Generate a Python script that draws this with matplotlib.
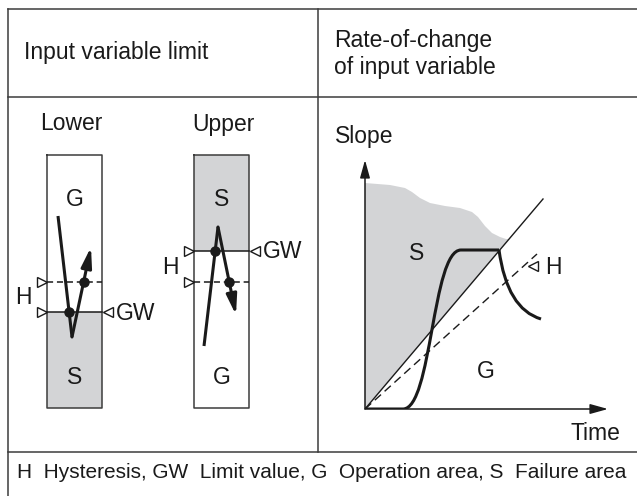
import numpy as np
import matplotlib
matplotlib.use("Agg")
import matplotlib.pyplot as plt
from matplotlib.path import Path
from matplotlib.patches import PathPatch

plt.rcParams['font.family'] = ['Liberation Sans', 'DejaVu Sans']

# --- texts ---
header_left = "Input variable limit"
header_right = "Rate-of-change\nof input variable"
footer = "H  Hysteresis, GW  Limit value, G  Operation area, S  Failure area"
box_titles = ["Lower", "Upper"]

# --- left panel: limit boxes (pixel coords of the figure) ---
box_left = [47, 194]
box_width = 55
box_top, box_bottom = 155, 408
title_x = [71, 223]
gw_level = [312, 251]          # limit value line
h_level = [282, 282]           # hysteresis (dashed) line
shade = [(312, 408), (155, 251)]
top_label = ["G", "S"]
bottom_label = ["S", "G"]

# signal paths (x, y) for the two boxes
lower_path_x = [58, 72, 91]
lower_path_y = [216, 337, 247]
upper_path_x = [204, 218, 236]
upper_path_y = [346, 227, 315]

# --- right panel: slope vs time, local units (time right, slope up) ---
t_axis_len = 243
s_axis_len = 249
limit_line = (178, 210)
hyst_line = (172, 155)
fail_top_t = [0, 25, 40, 47, 55, 65, 80, 95, 107, 113, 120, 127, 135, 141, 144]
fail_top_s = [226, 224, 221, 217, 211, 206, 203, 201, 197, 192, 183, 176, 172, 170, 170]
# rise: flat start, S-shaped bezier, plateau
rise_t = [0, 38, 67, 67, 96, 134]
rise_s = [0, 0, 0, 159, 159, 159]
# fall: quadratic bezier after the plateau
fall_t = [134, 142, 176]
fall_s = [159, 100, 90]

ink = '#1a1a1a'
frame = '#3c3c3c'
gray = '#d3d4d6'
fs = 16.5
fs_foot = 15

fig = plt.figure(figsize=(6.37, 4.96), dpi=100)
ax = fig.add_axes([0, 0, 1, 1])
ax.set_xlim(0, 637)
ax.set_ylim(496, 0)
ax.axis('off')

# table grid
ax.plot([8, 637], [9, 9], color=frame, lw=1.1)
ax.plot([8, 637], [97, 97], color=frame, lw=1.1)
ax.plot([8, 637], [452, 452], color=frame, lw=1.1)
ax.plot([8, 8], [9, 496], color=frame, lw=1.1)
ax.plot([318, 318], [9, 452], color=frame, lw=1.1)

ax.text(24, 52, header_left, fontsize=fs, color=ink, va='center', ha='left')
ax.text(334, 54, header_right, fontsize=fs, color=ink, va='center', ha='left',
        linespacing=1.2)
ax.text(17, 473, footer, fontsize=fs_foot, color=ink, va='center', ha='left')

# limit boxes
for i in range(2):
    x0 = box_left[i]
    x1 = x0 + box_width
    xc = x0 + box_width / 2
    y0, y1 = shade[i]
    ax.fill_between([x0, x1], y0, y1, color=gray, lw=0)
    ax.plot([x0, x1, x1, x0, x0], [box_top, box_top, box_bottom, box_bottom, box_top],
            color=frame, lw=1.1)
    ax.plot([x0, x1], [gw_level[i]] * 2, color=ink, lw=1.1)
    ax.plot([x0, x1], [h_level[i]] * 2, color=ink, lw=1.1, ls=(0, (4, 2.5)))
    ax.text(title_x[i], 124, box_titles[i], fontsize=fs, color=ink, ha='center', va='center')
    ax.text(xc, 200, top_label[i], fontsize=fs, color=ink, ha='center', va='center')
    ax.text(xc, 377, bottom_label[i], fontsize=fs, color=ink, ha='center', va='center')
    # hollow markers
    ax.plot([x0 - 5] * 2, [gw_level[i], h_level[i]], ls='none', marker='>', ms=7,
            mfc='white', mec=ink, mew=1)
    ax.plot([x1 + 5.5], [gw_level[i]], ls='none', marker='<', ms=7,
            mfc='white', mec=ink, mew=1)
    ax.text(x1 + 14, gw_level[i] + 1, "GW", fontsize=fs, color=ink, ha='left', va='center')
    ax.text(x0 - 24, (gw_level[i] + h_level[i]) / 2 + 1, "H", fontsize=fs, color=ink,
            ha='center', va='center')

# signal arrows with crossing dots
for px, py, i in [(lower_path_x, lower_path_y, 0), (upper_path_x, upper_path_y, 1)]:
    ax.plot(px[:2], py[:2], color=ink, lw=2.2, solid_capstyle='butt')
    ax.annotate('', xy=(px[2], py[2]), xytext=(px[1], py[1]),
                arrowprops=dict(arrowstyle='-|>,head_length=1.0,head_width=0.26',
                                lw=2.2, color=ink, shrinkA=0, shrinkB=0,
                                mutation_scale=12))
    # first segment crosses the GW line, second the dashed H line
    segs = [((px[0], py[0], px[1], py[1]), gw_level[i]),
            ((px[1], py[1], px[2], py[2]), h_level[i])]
    for (xa, ya, xb, yb), lv in segs:
        if min(ya, yb) <= lv <= max(ya, yb):
            xd = xa + (xb - xa) * (lv - ya) / (yb - ya)
            ax.plot([xd], [lv], 'o', color=ink, ms=6.5)

# right panel: slope vs time
ax2 = fig.add_axes([365 / 637, (496 - 409) / 496, t_axis_len / 637, s_axis_len / 496])
ax2.set_xlim(0, t_axis_len)
ax2.set_ylim(0, s_axis_len)
ax2.axis('off')

poly_t = [0] + fail_top_t + [0]
poly_s = [0] + fail_top_s + [0]
ax2.fill(poly_t, poly_s, color=gray, lw=0)
ax2.plot([0, limit_line[0]], [0, limit_line[1]], color=ink, lw=1.0)
ax2.plot([0, hyst_line[0]], [0, hyst_line[1]], color=ink, lw=1.0, ls=(0, (6, 3.5)))

rise = Path(list(zip(rise_t, rise_s)),
            [Path.MOVETO, Path.LINETO, Path.CURVE4, Path.CURVE4, Path.CURVE4, Path.LINETO])
ax2.add_patch(PathPatch(rise, fc='none', ec=ink, lw=2.2, joinstyle='round'))
fall = Path(list(zip(fall_t, fall_s)), [Path.MOVETO, Path.CURVE3, Path.CURVE3])
ax2.add_patch(PathPatch(fall, fc='none', ec=ink, lw=2.2))

ax2.annotate('', xy=(t_axis_len, 0), xytext=(0, 0),
             arrowprops=dict(arrowstyle='-|>,head_length=0.9,head_width=0.25', lw=1.1,
                             color=ink, shrinkA=0, shrinkB=0, mutation_scale=12))
ax2.annotate('', xy=(0, s_axis_len), xytext=(0, 0),
             arrowprops=dict(arrowstyle='-|>,head_length=0.9,head_width=0.25', lw=1.1,
                             color=ink, shrinkA=0, shrinkB=0, mutation_scale=12))
ax2.plot([hyst_line[0] - 4], [hyst_line[1] - 12], ls='none', marker='<', ms=7,
         mfc='white', mec=ink, mew=1)

ax2.text(-30, 272, "Slope", fontsize=fs, color=ink, ha='left', va='center', clip_on=False)
ax2.text(255, -25, "Time", fontsize=fs, color=ink, ha='right', va='center', clip_on=False)
ax2.text(52, 155, "S", fontsize=fs, color=ink, ha='center', va='center')
ax2.text(121, 37, "G", fontsize=fs, color=ink, ha='center', va='center')
ax2.text(180, 141, "H", fontsize=fs, color=ink, ha='left', va='center', clip_on=False)

fig.savefig('out.png', dpi=100)
